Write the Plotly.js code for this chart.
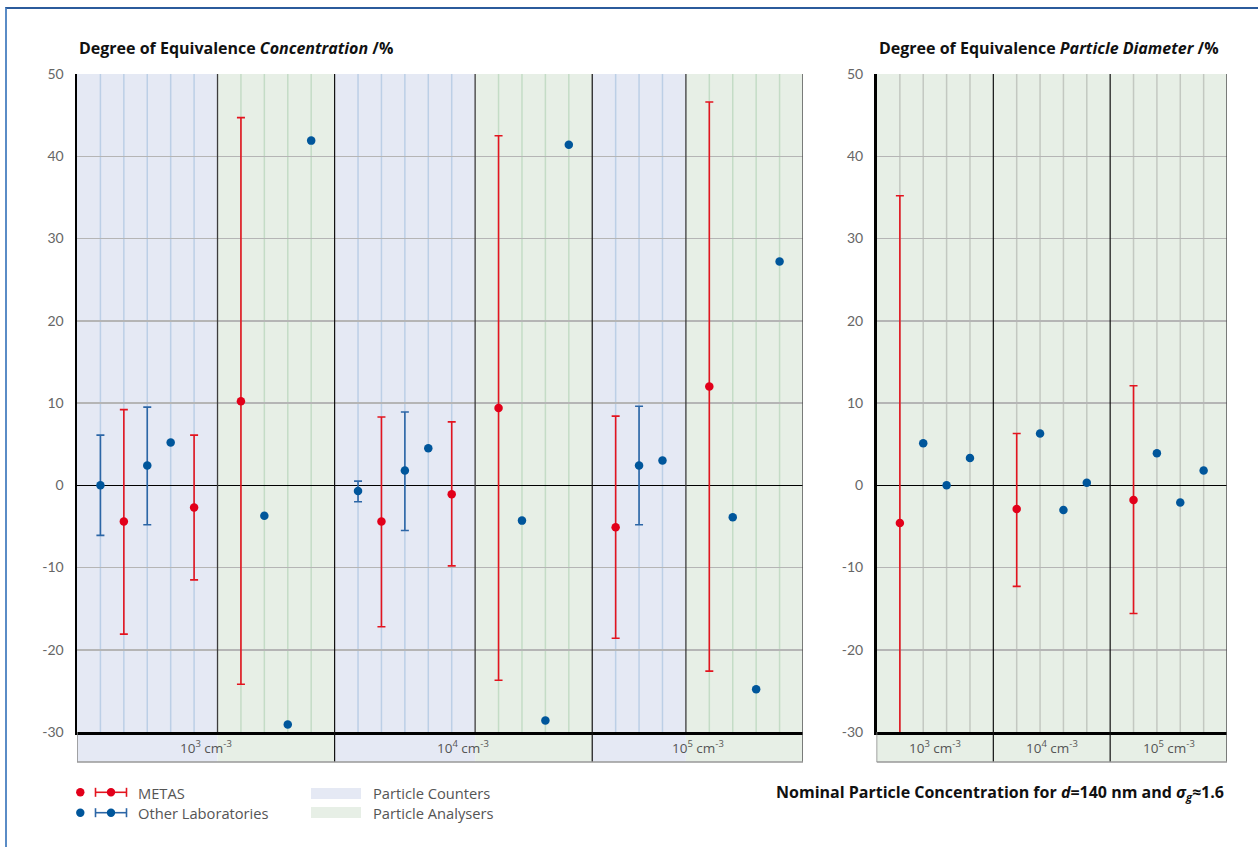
<!DOCTYPE html>
<html><head><meta charset="utf-8">
<script src="https://cdn.plot.ly/plotly-3.0.1.min.js"></script>
<style>
html,body{margin:0;padding:0;background:#fff;overflow:hidden}
#chart{position:absolute;left:0;top:0;width:1258px;height:847px}
#frame{position:absolute;left:5px;top:7px;width:1260px;height:850px;border-top:2px solid #2b5b9c;border-left:2px solid #5a8cc6;pointer-events:none}
</style></head><body>
<div id="chart"></div><div id="frame"></div>
<script>
// ---------------- DATA ----------------
// Left panel: Degree of equivalence, concentration (%)
const concGroupLabels = ['10<sup>3</sup> cm<sup>-3</sup>', '10<sup>4</sup> cm<sup>-3</sup>', '10<sup>5</sup> cm<sup>-3</sup>'];
const concCounterSlots = [5, 5, 3];    // particle counters per group
const concAnalyserSlots = [4, 4, 4];   // particle analysers per group
// lab per slot (M = METAS, O = other laboratories), counters first then analysers, group by group
const concLab   = ['O','M','O','O','M',  'M','O','O','O',
                   'O','M','O','O','M',  'M','O','O','O',
                   'M','O','O',          'M','O','O','O'];
const concValue = [0.0, -4.4, 2.4, 5.2, -2.7,   10.2, -3.7, -29.1, 41.9,
                   -0.7, -4.4, 1.8, 4.5, -1.1,  9.4, -4.3, -28.6, 41.4,
                   -5.1, 2.4, 3.0,              12.0, -3.9, -24.8, 27.2];
const concUpper = [6.1, 9.2, 9.5, null, 6.1,    44.7, null, null, null,
                   0.5, 8.3, 8.9, null, 7.7,    42.5, null, null, null,
                   8.4, 9.6, null,              46.6, null, null, null];
const concLower = [-6.1, -18.1, -4.8, null, -11.5,  -24.2, null, null, null,
                   -2.0, -17.2, -5.5, null, -9.8,   -23.7, null, null, null,
                   -18.6, -4.8, null,               -22.6, null, null, null];

// Right panel: Degree of equivalence, particle diameter (%)
const diamGroupLabels = ['10<sup>3</sup> cm<sup>-3</sup>', '10<sup>4</sup> cm<sup>-3</sup>', '10<sup>5</sup> cm<sup>-3</sup>'];
const diamSlots = [4, 4, 4];
const diamLab   = ['M','O','O','O',  'M','O','O','O',  'M','O','O','O'];
const diamValue = [-4.6, 5.1, 0.0, 3.3,   -2.9, 6.3, -3.0, 0.3,   -1.8, 3.9, -2.1, 1.8];
const diamUpper = [35.2, null, null, null,  6.3, null, null, null,  12.1, null, null, null];
const diamLower = [-44.4, null, null, null, -12.3, null, null, null, -15.6, null, null, null];

const yTickVals = [-30, -20, -10, 0, 10, 20, 30, 40, 50];
const yTickText = ['-30', '-20', '-10', '0', '10', '20', '30', '40', '50'];

// ---------------- STYLE ----------------
const FONT = 'Lato, "Open Sans", sans-serif';
const TFONT = '"Open Sans", Lato, sans-serif';
const RED = '#e2001a', RED_BAR = '#e3141f';
const BLUE = '#00569b', BLUE_BAR = '#2c66a6';
const BG_PC = '#e5e9f4', BG_PA = '#e7efe6';
const GRID_PC = '#bccfe6', GRID_PA = '#c4dcc6', GRID_D = '#c3c8c1';
const W = 1258, H = 847, ML = 77, MR = 31, MT = 74, MB = 115;
const PW = W - ML - MR, PH = H - MT - MB;
const px2x = p => (p - ML) / PW;
const px2y = p => (H - MB - p) / PH;
const bandY = px2y(762);
const leftDom = [0, px2x(803)];
const rightDom = [px2x(876.5), 1];

// ---------------- BUILD SLOTS ----------------
function concLayout() {
  const slots = [], groups = [];
  let s = 0;
  for (let g = 0; g < concCounterSlots.length; g++) {
    const nC = concCounterSlots[g], nA = concAnalyserSlots[g];
    for (let i = 1; i <= nC; i++) slots.push({x: s + i, kind: 'PC'});
    const div = s + nC + 1;
    for (let i = 1; i <= nA; i++) slots.push({x: div + i, kind: 'PA'});
    const end = div + nA + 1;
    groups.push({start: s, div: div, end: end});
    s = end;
  }
  return {slots, groups, total: s};
}
function diamLayout() {
  const slots = [], groups = [];
  let s = 0;
  for (let g = 0; g < diamSlots.length; g++) {
    for (let i = 1; i <= diamSlots[g]; i++) slots.push({x: s + i, kind: 'PA'});
    const end = s + diamSlots[g] + 1;
    groups.push({start: s, end: end});
    s = end;
  }
  return {slots, groups, total: s};
}
const CL = concLayout(), DL = diamLayout();

// ---------------- TRACES ----------------
function makeTraces(L, labs, vals, up, lo, xa, ya) {
  const out = [];
  [['M', RED, RED_BAR], ['O', BLUE, BLUE_BAR]].forEach(([lab, col, barCol]) => {
    [true, false].forEach(withErr => {
      const x = [], y = [], ep = [], em = [];
      labs.forEach((l, i) => {
        const has = up[i] !== null && lo[i] !== null;
        if (l !== lab || has !== withErr) return;
        x.push(L.slots[i].x); y.push(vals[i]);
        if (has) { ep.push(up[i] - vals[i]); em.push(vals[i] - lo[i]); }
      });
      if (!x.length) return;
      const t = {type: 'scatter', mode: 'markers', x, y, xaxis: xa, yaxis: ya,
        marker: {color: col, size: 8.5, line: {width: 0}}, showlegend: false, hoverinfo: 'x+y'};
      if (withErr) t.error_y = {type: 'data', symmetric: false, array: ep, arrayminus: em,
        color: barCol, thickness: 1.6, width: 4};
      out.push(t);
    });
  });
  return out;
}
const traces = makeTraces(CL, concLab, concValue, concUpper, concLower, 'x', 'y')
  .concat(makeTraces(DL, diamLab, diamValue, diamUpper, diamLower, 'x2', 'y2'));

// ---------------- SHAPES ----------------
const shapes = [];
function rect(xr, yr, x0, x1, y0, y1, fill, layer) {
  shapes.push({type: 'rect', xref: xr, yref: yr, x0, x1, y0, y1, fillcolor: fill, line: {width: 0}, layer: layer || 'below'});
}
function vline(xr, yr, x, y0, y1, color, w, layer) {
  shapes.push({type: 'line', xref: xr, yref: yr, x0: x, x1: x, y0, y1, line: {color, width: w}, layer: layer || 'below'});
}
// left panel backgrounds
CL.groups.forEach(g => {
  rect('x', 'y', g.start, g.div, -30, 50, BG_PC);
  rect('x', 'y', g.div, g.end, -30, 50, BG_PA);
  rect('x', 'paper', g.start, g.div, bandY, 0, BG_PC);
  rect('x', 'paper', g.div, g.end, bandY, 0, BG_PA);
});
CL.slots.forEach(s => vline('x', 'y', s.x, -30, 50, s.kind === 'PC' ? GRID_PC : GRID_PA, 1.5));
DL.groups.forEach(g => {
  rect('x2', 'y2', g.start, g.end, -30, 50, BG_PA);
  rect('x2', 'paper', g.start, g.end, bandY, 0, BG_PA);
});
DL.slots.forEach(s => vline('x2', 'y2', s.x, -30, 50, GRID_D, 1.5));
// dividers
CL.groups.forEach(g => vline('x', 'y', g.div, -30, 50, '#3c3c3c', 1.3, 'between'));
CL.groups.forEach((g, i) => { if (i > 0) vline('x', 'paper', g.start, bandY, 1, '#111', 1.2, 'above'); });
vline('x', 'paper', CL.total, bandY, 1, '#555', 1.5, 'above');
vline('x', 'paper', 0, bandY, 0, '#888', 1.5, 'above');
DL.groups.forEach((g, i) => { if (i > 0) vline('x2', 'paper', g.start, bandY, 1, '#111', 1.2, 'above'); });
vline('x2', 'paper', DL.total, bandY, 1, '#555', 1.5, 'above');
vline('x2', 'paper', 0, bandY, 0, '#888', 1.5, 'above');
// band bottoms
shapes.push({type: 'line', xref: 'x', yref: 'paper', x0: 0, x1: CL.total, y0: bandY, y1: bandY, line: {color: '#999', width: 1.5}});
shapes.push({type: 'line', xref: 'x2', yref: 'paper', x0: 0, x1: DL.total, y0: bandY, y1: bandY, line: {color: '#999', width: 1.5}});

// legend decorations (pixel positions)
function dot(cx, cy, r, col) {
  shapes.push({type: 'circle', xref: 'paper', yref: 'paper', xsizemode: 'pixel', ysizemode: 'pixel',
    xanchor: px2x(cx), yanchor: px2y(cy), x0: -r, x1: r, y0: -r, y1: r, fillcolor: col, line: {width: 0}});
}
function pline(x0, y0, x1, y1, col, w) {
  shapes.push({type: 'line', xref: 'paper', yref: 'paper', x0: px2x(x0), x1: px2x(x1), y0: px2y(y0), y1: px2y(y1), line: {color: col, width: w}});
}
function legendRow(cy, col, barCol) {
  dot(80.3, cy, 4.2, col);
  pline(95.5, cy, 126.5, cy, barCol, 1.6);
  pline(95.5, cy - 4.5, 95.5, cy + 4.5, barCol, 1.6);
  pline(126.5, cy - 4.5, 126.5, cy + 4.5, barCol, 1.6);
  dot(111, cy, 4.2, col);
}
legendRow(792.3, RED, RED_BAR);
legendRow(812.7, BLUE, BLUE_BAR);
shapes.push({type: 'rect', xref: 'paper', yref: 'paper', x0: px2x(311), x1: px2x(361), y0: px2y(799), y1: px2y(788), fillcolor: BG_PC, line: {width: 0}});
shapes.push({type: 'rect', xref: 'paper', yref: 'paper', x0: px2x(311), x1: px2x(361), y0: px2y(818), y1: px2y(807), fillcolor: BG_PA, line: {width: 0}});

// ---------------- ANNOTATIONS ----------------
const annotations = [];
CL.groups.forEach((g, i) => annotations.push({xref: 'x', yref: 'paper', x: (g.start + g.end) / 2, y: bandY / 2,
  text: concGroupLabels[i], showarrow: false, font: {family: TFONT, size: 13.5, color: '#555'}, yanchor: 'middle'}));
DL.groups.forEach((g, i) => annotations.push({xref: 'x2', yref: 'paper', x: (g.start + g.end) / 2, y: bandY / 2,
  text: diamGroupLabels[i], showarrow: false, font: {family: TFONT, size: 13.5, color: '#555'}, yanchor: 'middle'}));
annotations.push({xref: 'paper', yref: 'paper', x: 0, y: px2y(48), xanchor: 'left', yanchor: 'middle', showarrow: false,
  text: '<b>Degree of Equivalence <i>Concentration</i> /%</b>', font: {family: TFONT, size: 16, color: '#111'}});
annotations.push({xref: 'paper', yref: 'paper', x: rightDom[0], y: px2y(48), xanchor: 'left', yanchor: 'middle', showarrow: false,
  text: '<b>Degree of Equivalence <i>Particle Diameter</i> /%</b>', font: {family: TFONT, size: 16, color: '#111'}});
annotations.push({xref: 'paper', yref: 'paper', x: px2x(1226), y: px2y(793), xanchor: 'right', yanchor: 'middle', showarrow: false,
  text: '<b>Nominal Particle Concentration for <i>d</i>=140 nm and <i>σ<sub>g</sub></i>≈1.6</b>', font: {family: TFONT, size: 16, color: '#111'}});
function legText(x, y, t) {
  annotations.push({xref: 'paper', yref: 'paper', x: px2x(x), y: px2y(y), xanchor: 'left', yanchor: 'middle', showarrow: false,
    text: t, font: {family: TFONT, size: 14.7, color: '#555'}});
}
legText(136, 792.5, 'METAS');
legText(136, 812.7, 'Other Laboratories');
legText(370.5, 793, 'Particle Counters');
legText(370.5, 812.7, 'Particle Analysers');

// ---------------- LAYOUT ----------------
function yaxisCfg(anchor) {
  return {anchor, range: [-30, 50], tickvals: yTickVals, ticktext: yTickText, ticks: 'outside', ticklen: 8,
    tickcolor: 'rgba(0,0,0,0)', tickfont: {family: FONT, size: 14, color: '#666'},
    showgrid: true, gridcolor: '#b5b5b5', gridwidth: 1.5, zeroline: true, zerolinecolor: '#000', zerolinewidth: 1.2,
    showline: true, linecolor: '#000', linewidth: 2.5, fixedrange: true};
}
function xaxisCfg(dom, total, anchor) {
  return {domain: dom, anchor, range: [0, total], showgrid: false, zeroline: false, showticklabels: false,
    ticks: '', showline: true, linecolor: '#000', linewidth: 2.5, fixedrange: true};
}
const layout = {
  width: W, height: H, margin: {l: ML, r: MR, t: MT, b: MB, pad: 0},
  paper_bgcolor: '#fff', plot_bgcolor: 'rgba(0,0,0,0)', showlegend: false,
  font: {family: FONT},
  xaxis: xaxisCfg(leftDom, CL.total, 'y'),
  yaxis: yaxisCfg('x'),
  xaxis2: xaxisCfg(rightDom, DL.total, 'y2'),
  yaxis2: yaxisCfg('x2'),
  shapes, annotations
};
Plotly.newPlot('chart', traces, layout, {displayModeBar: false, staticPlot: true});
</script>
</body></html>
